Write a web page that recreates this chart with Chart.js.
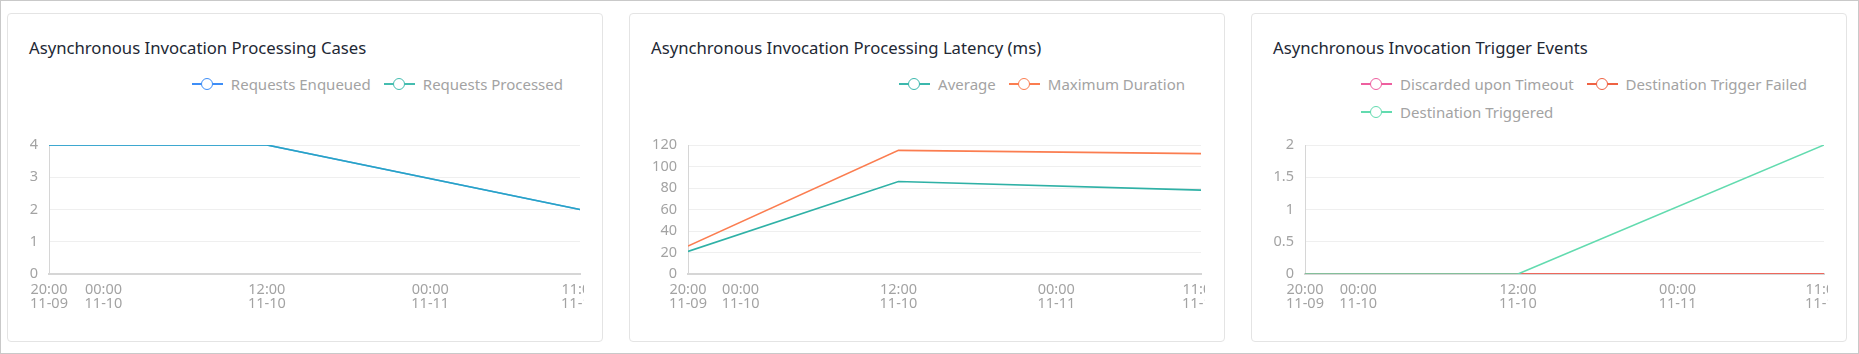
<!DOCTYPE html>
<html>
<head>
<meta charset="utf-8">
<title>Asynchronous Invocation Metrics</title>
<script src="https://cdn.jsdelivr.net/npm/chart.js@4.4.1/dist/chart.umd.min.js"></script>
<style>
  html, body { margin: 0; padding: 0; background: #fff; }
  body { width: 1859px; height: 354px; position: relative; overflow: hidden;
         font-family: "Noto Sans", "Open Sans", sans-serif; }
  .frame { position: absolute; left: 0; top: 0; width: 1859px; height: 354px;
           box-sizing: border-box; border: 1px solid #c9c9c9; }
  .card { position: absolute; top: 13px; width: 596px; height: 329px; box-sizing: border-box;
          border: 1px solid #e4e4e4; border-radius: 4px; background: #fff; }
  .title { position: absolute; left: 21px; top: 23px; font-size: 16.7px; line-height: 22px;
           color: #222834; white-space: nowrap; }
  .legend { position: absolute; right: 39px; top: 56px; font-size: 15px; color: #a3a3a3; }
  .legend-row { display: flex; height: 28px; align-items: center; }
  .legend-item { display: flex; align-items: center; margin-right: 13px; white-space: nowrap; }
  .legend-item:last-child { margin-right: 0; }
  .marker { position: relative; width: 31px; height: 14px; margin-right: 8px; }
  .marker::before { content: ""; position: absolute; left: 0; right: 0; top: 6px; height: 2px; background: var(--c); }
  .marker::after { content: ""; position: absolute; left: 9px; top: 0.5px; width: 10px; height: 10px;
                   border: 1.5px solid var(--c); border-radius: 50%; background: #fff; }
  canvas { position: absolute; left: 0; top: 116px; }
</style>
</head>
<body>
<div class="frame"></div>

<div class="card" style="left:7px">
  <div class="title">Asynchronous Invocation Processing Cases</div>
  <div class="legend" id="legend1"></div>
  <canvas id="chart1" width="576" height="200"></canvas>
</div>
<div class="card" style="left:629px">
  <div class="title">Asynchronous Invocation Processing Latency (ms)</div>
  <div class="legend" id="legend2"></div>
  <canvas id="chart2" width="575" height="200"></canvas>
</div>
<div class="card" style="left:1251px">
  <div class="title">Asynchronous Invocation Trigger Events</div>
  <div class="legend" id="legend3"></div>
  <canvas id="chart3" width="576" height="200"></canvas>
</div>

<script>
// hours since 20:00 on 11-09
const timeHours = [0, 16, 39];
const tickHours = [0, 4, 16, 28, 39];
const tickLabels = [
  ["20:00", "11-09"],
  ["00:00", "11-10"],
  ["12:00", "11-10"],
  ["00:00", "11-11"],
  ["11:00", "11-11"],
];

// chart 1 - processing cases
const requestsEnqueued = [4, 4, 2];
const requestsProcessed = [4, 4, 2];

// chart 2 - latency (ms)
const latencyAverage = [21, 86, 78];
const latencyMaximum = [26, 115, 112];

// chart 3 - trigger events
const discardedTimeout = [0, 0, 0];
const triggerFailed = [0, 0, 0];
const destinationTriggered = [0, 0, 2];

const axisColor = "#d6d6d6";
const tickColor = "#a3a3a3";

function toPoints(values) {
  return values.map((v, i) => ({ x: timeHours[i], y: v }));
}

function buildLegend(chart, el, breakAfter) {
  let row = document.createElement("div");
  row.className = "legend-row";
  el.appendChild(row);
  chart.data.datasets.forEach((ds, i) => {
    const item = document.createElement("div");
    item.className = "legend-item";
    const marker = document.createElement("span");
    marker.className = "marker";
    marker.style.setProperty("--c", ds.legendColor || ds.borderColor);
    const text = document.createElement("span");
    text.textContent = ds.label;
    item.appendChild(marker);
    item.appendChild(text);
    row.appendChild(item);
    if (i === breakAfter) {
      row = document.createElement("div");
      row.className = "legend-row";
      el.appendChild(row);
    }
  });
}

function makeChart(canvasId, legendId, datasets, yMax, yStep, yWidth, breakAfter) {
  const ctx = document.getElementById(canvasId).getContext("2d");
  const chart = new Chart(ctx, {
    type: "line",
    data: { datasets: datasets },
    options: {
      responsive: false,
      animation: false,
      layout: { padding: { left: 0, right: 4, top: 15, bottom: 6 }, autoPadding: false },
      plugins: { legend: { display: false }, tooltip: { enabled: false } },
      elements: {
        point: { radius: 0 },
        line: { borderWidth: 1.6, tension: 0 },
      },
      scales: {
        x: {
          type: "linear",
          min: 0,
          max: 39,
          grid: { display: false, drawTicks: false },
          border: { color: axisColor, width: 2 },
          afterBuildTicks: (scale) => {
            scale.ticks = tickHours.map((v) => ({ value: v }));
          },
          afterFit: (scale) => {
            // the last label is allowed to run off the edge, like the original
            scale.height = 50;
            scale.paddingLeft = 0;
            scale.paddingRight = 0;
          },
          ticks: {
            autoSkip: false,
            maxRotation: 0,
            padding: 9,
            color: tickColor,
            font: { size: 14.5, lineHeight: 0.97 },
            callback: (value, index) => tickLabels[index],
          },
        },
        y: {
          min: 0,
          max: yMax,
          grid: { color: "#efefef", drawTicks: false },
          border: { color: axisColor, width: 1 },
          afterFit: (scale) => {
            scale.width = yWidth;
            scale.paddingTop = 0;
            scale.paddingBottom = 0;
          },
          ticks: {
            stepSize: yStep,
            padding: 11,
            color: tickColor,
            font: { size: 14.5 },
            callback: (value) => String(value),
          },
        },
      },
    },
  });
  buildLegend(chart, document.getElementById(legendId), breakAfter);
  return chart;
}

Chart.defaults.font.family = '"Noto Sans", "Open Sans", sans-serif';

makeChart("chart1", "legend1", [
  {
    label: "Requests Enqueued",
    data: toPoints(requestsEnqueued),
    borderColor: "#3e8ef7",
    order: 1,
  },
  {
    label: "Requests Processed",
    data: toPoints(requestsProcessed),
    borderColor: "rgba(34, 170, 182, 0.8)",
    legendColor: "#45bdb0",
    order: 0,
  },
], 4, 1, 41, -1);

makeChart("chart2", "legend2", [
  {
    label: "Average",
    data: toPoints(latencyAverage),
    borderColor: "#2fb1a6",
    legendColor: "#3bb8ad",
  },
  {
    label: "Maximum Duration",
    data: toPoints(latencyMaximum),
    borderColor: "#fb7d50",
  },
], 120, 20, 58, -1);

makeChart("chart3", "legend3", [
  {
    label: "Discarded upon Timeout",
    data: toPoints(discardedTimeout),
    borderColor: "#ee5f9f",
    order: 2,
  },
  {
    label: "Destination Trigger Failed",
    data: toPoints(triggerFailed),
    borderColor: "#ef6243",
    order: 1,
  },
  {
    label: "Destination Triggered",
    data: toPoints(destinationTriggered),
    borderColor: "#62dbaf",
    order: 0,
  },
], 2, 0.5, 53, 1);
</script>
</body>
</html>
